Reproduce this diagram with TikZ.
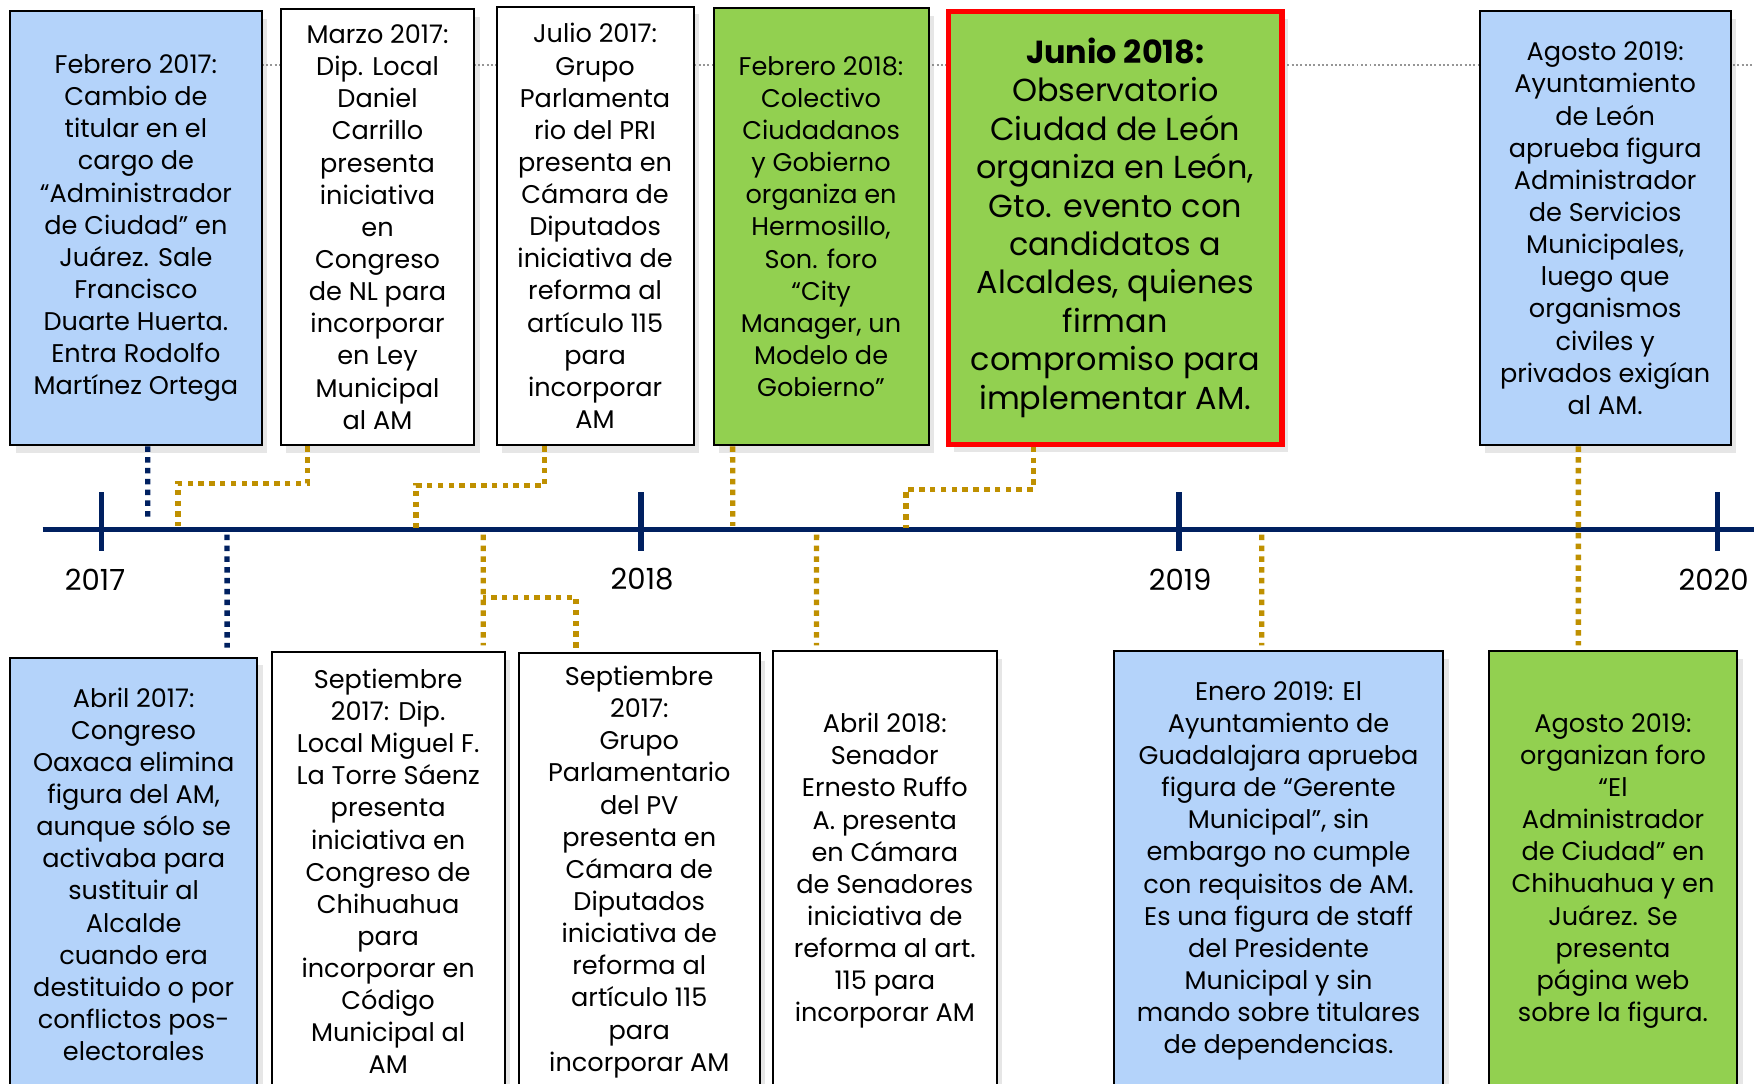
\documentclass[tikz,border=0pt]{standalone}
\usepackage{fontspec}
\setmainfont{Poppins}
\usepackage{xcolor}
\usepackage{tikz}
\usetikzlibrary{positioning}
\usetikzlibrary{shadows}
\definecolor{azulclaro}{RGB}{180,211,250}
\definecolor{verdeclaro}{RGB}{146,208,80}
\definecolor{oro}{RGB}{191,144,0}
\definecolor{marino}{RGB}{0,32,96}
\definecolor{grisguia}{RGB}{150,150,150}
\newcommand{\txtev}{\fontsize{6.5}{8.17}\selectfont}
\newcommand{\txtgde}{\fontsize{8.1}{9.76}\selectfont}
\newcommand{\txtanio}{\fontsize{7.4}{8.5}\selectfont}
\tikzset{
  evento/.style = {draw=black, line width=0.5pt, align=center, inner sep=0pt,
    font=\txtev, text=black, drop shadow={shadow xshift=0.5mm,
    shadow yshift=-0.7mm, opacity=0.2}},% caja de evento
  ev_azul/.style = {evento, fill=azulclaro},
  ev_verde/.style = {evento, fill=verdeclaro},
  ev_blanco/.style = {evento, fill=white},
  ev_clave/.style = {evento, fill=verdeclaro, draw=red, line width=1.3pt,
    font=\txtgde},% evento destacado
  con_oro/.style = {draw=oro, line width=1.35pt, dash pattern=on 1.4pt off 1.35pt},
  con_marino/.style = {draw=marino, line width=1.35pt, dash pattern=on 1.4pt off 1.35pt},
  eje/.style = {draw=marino, line width=1.3pt},
  marca/.style = {draw=marino, line width=1.3pt},
  anio/.style = {font=\txtanio, inner sep=0pt},
  guia/.style = {draw=grisguia, line width=0.55pt, dash pattern=on 0.5pt off 0.6pt}
}

\begin{document}
\begin{tikzpicture}[x=0.01cm, y=-0.01cm]
\useasboundingbox (0,0) rectangle (1568,969);
% linea guia gris detras de las cajas
\coordinate (guia_ini) at (234,58);
\coordinate (guia_fin) at (1568,58);
\draw[guia] (guia_ini) -- (guia_fin);

% eje del tiempo
\coordinate (eje_ini) at (38,473);
\coordinate (eje_fin) at (1568,473);
\draw[eje] (eje_ini) -- (eje_fin);
\foreach \x/\lx/\a in {91/85/2017, 573/574/2018, 1054/1055/2019, 1535/1532/2020}{
  \draw[marca] (\x,440) -- (\x,493);
  \node[anio] (a\a) at (\lx,518) {\a};
}

% eventos de arriba
\node [ev_azul, minimum width=2.25cm, minimum height=3.88cm] (feb17) at (121.5,204)
  {Febrero 2017:\\ Cambio de\\ titular en el\\ cargo de\\ “Administrador\\ de Ciudad” en\\
   Juárez. Sale\\ Francisco\\ Duarte Huerta.\\ Entra Rodolfo\\ Martínez Ortega};
\node [ev_blanco, minimum width=1.73cm, minimum height=3.90cm] (mar17) at (337.5,203)
  {Marzo 2017:\\ Dip. Local\\ Daniel\\ Carrillo\\ presenta\\ iniciativa\\ en\\ Congreso\\
   de NL para\\ incorporar\\ en Ley\\ Municipal\\ al AM};
\node [ev_blanco, minimum width=1.76cm, minimum height=3.92cm] (jul17) at (532,202)
  {Julio 2017:\\ Grupo\\ Parlamenta\\ rio del PRI\\ presenta en\\ Cámara de\\ Diputados\\
   iniciativa de\\ reforma al\\ artículo 115\\ para\\ incorporar\\ AM};
\node [ev_verde, minimum width=1.92cm, minimum height=3.91cm] (feb18) at (734,202.5)
  {Febrero 2018:\\ Colectivo\\ Ciudadanos\\ y Gobierno\\ organiza en\\ Hermosillo,\\ Son. foro\\
   “City\\ Manager, un\\ Modelo de\\ Gobierno”};
\node [ev_clave, minimum width=2.98cm, minimum height=3.87cm] (jun18) at (997,203.5)
  {\textbf{Junio 2018:}\\ Observatorio\\ Ciudad de León\\ organiza en León,\\ Gto. evento con\\
   candidatos a\\ Alcaldes, quienes\\ firman\\ compromiso para\\ implementar AM.};
\node [ev_azul, minimum width=2.24cm, minimum height=3.88cm] (ago19a) at (1435,204)
  {Agosto 2019:\\ Ayuntamiento\\ de León\\ aprueba figura\\ Administrador\\ de Servicios\\
   Municipales,\\ luego que\\ organismos\\ civiles y\\ privados exigían\\ al AM.};

% eventos de abajo
\node [ev_azul, minimum width=2.21cm, minimum height=3.87cm] (abr17) at (119.5,781.5)
  {Abril 2017:\\ Congreso\\ Oaxaca elimina\\ figura del AM,\\ aunque sólo se\\ activaba para\\
   sustituir al\\ Alcalde\\ cuando era\\ destituido o por\\ conflictos pos-\\ electorales};
\node [ev_blanco, minimum width=2.08cm, minimum height=3.92cm] (sep17a) at (347,779)
  {Septiembre\\ 2017: Dip.\\ Local Miguel F.\\ La Torre Sáenz\\ presenta\\ iniciativa en\\
   Congreso de\\ Chihuahua\\ para\\ incorporar en\\ Código\\ Municipal al\\ AM};
\node [ev_blanco, minimum width=2.15cm, minimum height=3.91cm] (sep17b) at (571.5,779.5)
  {Septiembre\\ 2017:\\ Grupo\\ Parlamentario\\ del PV\\ presenta en\\ Cámara de\\ Diputados\\
   iniciativa de\\ reforma al\\ artículo 115\\ para\\ incorporar AM};
\node [ev_blanco, minimum width=2.00cm, minimum height=3.93cm] (abr18) at (791,778.5)
  {Abril 2018:\\ Senador\\ Ernesto Ruffo\\ A. presenta\\ en Cámara\\ de Senadores\\
   iniciativa de\\ reforma al art.\\ 115 para\\ incorporar AM};
\node [ev_azul, minimum width=2.94cm, minimum height=3.93cm] (ene19) at (1143,778.5)
  {Enero 2019: El\\ Ayuntamiento de\\ Guadalajara aprueba\\ figura de “Gerente\\ Municipal”, sin\\
   embargo no cumple\\ con requisitos de AM.\\ Es una figura de staff\\ del Presidente\\
   Municipal y sin\\ mando sobre titulares\\ de dependencias.};
\node [ev_verde, minimum width=2.22cm, minimum height=3.93cm] (ago19b) at (1442,778.5)
  {Agosto 2019:\\ organizan foro\\ “El\\ Administrador\\ de Ciudad” en\\ Chihuahua y en\\
   Juárez. Se\\ presenta\\ página web\\ sobre la figura.};

% conectores al eje
\coordinate (t_feb17) at (132,465);
\coordinate (t_mar17) at (159,470);
\coordinate (t_jul17) at (372,472);
\coordinate (t_feb18) at (655,470);
\coordinate (t_jun18) at (810,472);
\coordinate (t_abr17) at (203,478);
\coordinate (t_sep17a) at (432,478);
\coordinate (t_sep17b) at (432,534);
\coordinate (t_abr18) at (730,478);
\coordinate (t_ene19) at (1128,478);

\draw[con_marino] ([xshift=1.05mm]feb17.south) -- (t_feb17);
\draw[con_oro] ([xshift=-6.25mm]mar17.south) -- ++(0,33) -| (t_mar17);
\draw[con_oro] ([xshift=-4.5mm]jul17.south) -- ++(0,35) -| (t_jul17);
\draw[con_oro] ([xshift=-7.9mm]feb18.south) -- (t_feb18);
\draw[con_oro] ([xshift=-7.3mm]jun18.south) -- ++(0,38) -| (t_jun18);
\draw[con_oro] ([xshift=-2.4mm]ago19a.south) -- ([xshift=-3.1mm,yshift=0.4mm]ago19b.north);

\draw[con_marino] (t_abr17) -- ([xshift=8.35mm,yshift=0.8mm]abr17.north);
\draw[con_oro] (t_sep17a) -- ([xshift=8.5mm,yshift=0.5mm]sep17a.north);
\draw[con_oro] ([xshift=-5.65mm,yshift=0.4mm]sep17b.north) |- (t_sep17b);
\draw[con_oro] (t_abr18) -- ([xshift=-6.1mm,yshift=0.4mm]abr18.north);
\draw[con_oro] (t_ene19) -- ([xshift=-1.5mm,yshift=0.4mm]ene19.north);
\end{tikzpicture}
\end{document}
